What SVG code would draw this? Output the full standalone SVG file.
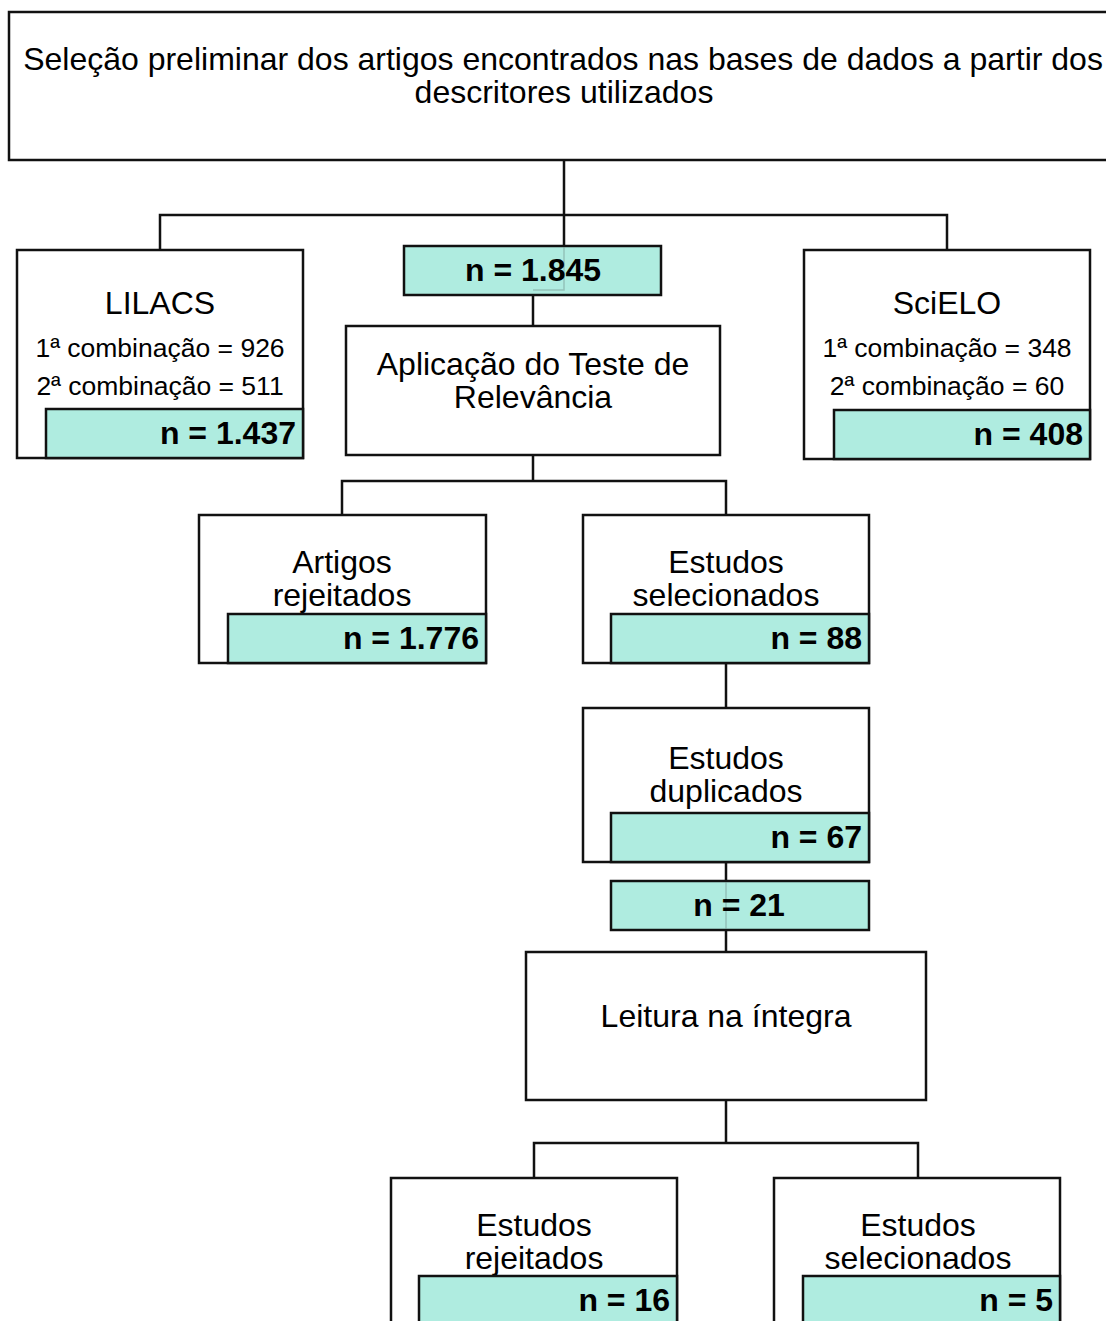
<svg xmlns="http://www.w3.org/2000/svg" width="1106" height="1321" viewBox="0 0 1106 1321">
<style>
.box{fill:#fff;stroke:#111;stroke-width:2.5}
.teal{fill:#afece0;stroke:#111;stroke-width:2.5}
.ln{fill:none;stroke:#111;stroke-width:2.5}
.faint{fill:none;stroke:#7a9a94;stroke-width:1.5;opacity:0.5}
text{font-family:"Liberation Sans",Arial,sans-serif;fill:#000}
.t{font-size:32px;text-anchor:middle}
.s{font-size:26.5px;text-anchor:middle}
.b{font-size:32px;font-weight:bold;text-anchor:end}
.bc{font-size:32px;font-weight:bold;text-anchor:middle}
</style>
<rect width="1106" height="1321" fill="#fff"/>
<g id="connectors">
<path class="ln" d="M564 160V246M160 250V215H947V250"/>
<path class="ln" d="M533 295V326"/>
<path class="ln" d="M533 455V481M342 515V481H726V515"/>
<path class="ln" d="M726 663V708"/>
<path class="ln" d="M726 862V881M726 930V952"/>
<path class="ln" d="M726 1100V1143M534 1178V1143H918V1178"/>
</g>
<g id="n-top">
<rect class="box" x="9" y="12" width="1110" height="148"/>
<text class="t" x="563" y="70">Seleção preliminar dos artigos encontrados nas bases de dados a partir dos</text>
<text class="t" x="564" y="103">descritores utilizados</text>
</g>
<g id="n-lilacs">
<rect class="box" x="17" y="250" width="286" height="208"/>
<text class="t" x="160" y="314">LILACS</text>
<text class="s" x="160" y="357">1ª combinação = 926</text>
<text class="s" x="160" y="395">2ª combinação = 511</text>
<rect class="teal" x="46" y="409" width="257" height="49"/>
<text class="b" x="296" y="444">n = 1.437</text>
</g>
<g id="n-total">
<rect class="teal" x="404" y="246" width="257" height="49"/>
<path class="faint" d="M564 247V290H533"/>
<text class="bc" x="533" y="281">n = 1.845</text>
</g>
<g id="n-scielo">
<rect class="box" x="804" y="250" width="286" height="209"/>
<text class="t" x="947" y="314">SciELO</text>
<text class="s" x="947" y="357">1ª combinação = 348</text>
<text class="s" x="947" y="395">2ª combinação = 60</text>
<rect class="teal" x="834" y="410" width="256" height="49"/>
<text class="b" x="1083" y="445">n = 408</text>
</g>
<g id="n-relevancia">
<rect class="box" x="346" y="326" width="374" height="129"/>
<text class="t" x="533" y="375">Aplicação do Teste de</text>
<text class="t" x="533" y="408">Relevância</text>
</g>
<g id="n-artigos-rejeitados">
<rect class="box" x="199" y="515" width="287" height="148"/>
<text class="t" x="342" y="573">Artigos</text>
<text class="t" x="342" y="606">rejeitados</text>
<rect class="teal" x="228" y="614" width="258" height="49"/>
<text class="b" x="479" y="649">n = 1.776</text>
</g>
<g id="n-estudos-selecionados-1">
<rect class="box" x="583" y="515" width="286" height="148"/>
<text class="t" x="726" y="573">Estudos</text>
<text class="t" x="726" y="606">selecionados</text>
<rect class="teal" x="611" y="614" width="258" height="49"/>
<text class="b" x="862" y="649">n = 88</text>
</g>
<g id="n-duplicados">
<rect class="box" x="583" y="708" width="286" height="154"/>
<text class="t" x="726" y="769">Estudos</text>
<text class="t" x="726" y="802">duplicados</text>
<rect class="teal" x="611" y="813" width="258" height="49"/>
<text class="b" x="862" y="848">n = 67</text>
</g>
<g id="n-21">
<rect class="teal" x="611" y="881" width="258" height="49"/>
<path class="faint" d="M726 882V929"/>
<text class="bc" x="739" y="916">n = 21</text>
</g>
<g id="n-leitura">
<rect class="box" x="526" y="952" width="400" height="148"/>
<text class="t" x="726" y="1027">Leitura na íntegra</text>
</g>
<g id="n-estudos-rejeitados">
<rect class="box" x="391" y="1178" width="286" height="160"/>
<text class="t" x="534" y="1236">Estudos</text>
<text class="t" x="534" y="1269">rejeitados</text>
<rect class="teal" x="419" y="1276" width="258" height="60"/>
<text class="b" x="670" y="1311">n = 16</text>
</g>
<g id="n-estudos-selecionados-2">
<rect class="box" x="774" y="1178" width="286" height="160"/>
<text class="t" x="918" y="1236">Estudos</text>
<text class="t" x="918" y="1269">selecionados</text>
<rect class="teal" x="803" y="1276" width="257" height="60"/>
<text class="b" x="1053" y="1311">n = 5</text>
</g>
</svg>
